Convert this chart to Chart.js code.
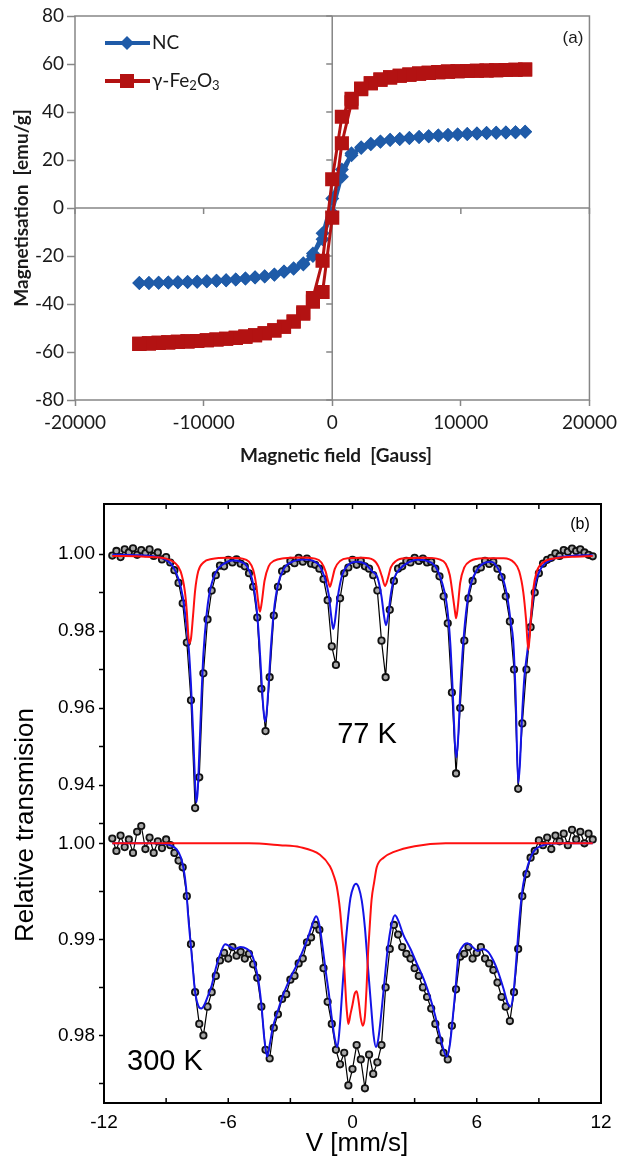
<!DOCTYPE html>
<html>
<head>
<meta charset="utf-8">
<script src="https://cdn.jsdelivr.net/npm/chart.js@4.4.0/dist/chart.umd.min.js"></script>
<style>
  html, body { margin: 0; padding: 0; background: #fff; }
  canvas { position: absolute; left: 0; }
</style>
</head>
<body>
<canvas id="chartA" width="622" height="480" style="top:0"></canvas>
<canvas id="chartB" width="622" height="680" style="top:480px"></canvas>
<script>
// ---------- panel (a): hysteresis loops ----------
const fieldUp = [-15000,-14250,-13500,-12750,-12000,-11250,-10500,-9750,-9000,-8250,-7500,-6750,-6000,-5250,-4500,-3750,-3000,-2250,-1500,-750,0,750,1500,2250,3000,3750,4500,5250,6000,6750,7500,8250,9000,9750,10500,11250,12000,12750,13500,14250,15000];
const fieldDown = [15000,14250,13500,12750,12000,11250,10500,9750,9000,8250,7500,6750,6000,5250,4500,3750,3000,2250,1500,750,0,-750,-1500,-2250,-3000,-3750,-4500,-5250,-6000,-6750,-7500,-8250,-9000,-9750,-10500,-11250,-12000,-12750,-13500,-14250,-15000];
const ncUp = [-31.3,-31.2,-31.1,-31.0,-30.9,-30.8,-30.7,-30.5,-30.3,-30.1,-29.8,-29.4,-29.0,-28.5,-27.8,-26.6,-25.3,-23.5,-20.0,-13.0,-2.0,13.0,22.0,25.0,26.6,27.6,28.3,28.8,29.2,29.6,29.9,30.2,30.4,30.6,30.8,31.0,31.2,31.4,31.5,31.6,31.8];
const ncDown = [31.8,31.6,31.5,31.4,31.2,31.0,30.8,30.6,30.4,30.2,29.9,29.6,29.2,28.8,28.4,27.7,26.8,25.3,22.8,16.0,4.0,-10.5,-19.0,-23.0,-25.1,-26.5,-27.7,-28.4,-28.9,-29.4,-29.8,-30.1,-30.3,-30.5,-30.7,-30.8,-30.9,-31.0,-31.1,-31.2,-31.3];
const feUp = [-56.6,-56.4,-56.2,-56.0,-55.8,-55.6,-55.4,-55.1,-54.8,-54.5,-54.1,-53.6,-53.0,-52.2,-51.0,-49.5,-47.3,-44.0,-39.0,-35.0,-4.0,27.0,44.0,49.5,52.0,53.5,54.4,55.1,55.6,56.0,56.3,56.6,56.8,57.0,57.1,57.2,57.3,57.4,57.5,57.6,57.7];
const feDown = [57.7,57.6,57.5,57.4,57.3,57.2,57.1,57.0,56.8,56.6,56.3,56.0,55.6,55.1,54.4,53.5,52.0,49.8,45.5,38.0,12.0,-22.0,-37.5,-43.5,-47.3,-49.5,-51.0,-52.2,-53.0,-53.6,-54.1,-54.5,-54.8,-55.1,-55.4,-55.6,-55.8,-56.0,-56.2,-56.4,-56.6];
const seriesNamesA = ['NC', 'γ-Fe2O3'];

// ---------- panel (b): Mossbauer spectra ----------
const vData = [-11.6,-11.4,-11.2,-11.0,-10.8,-10.6,-10.4,-10.2,-10.0,-9.8,-9.6,-9.4,-9.2,-9.0,-8.8,-8.6,-8.4,-8.2,-8.0,-7.8,-7.6,-7.4,-7.2,-7.0,-6.8,-6.6,-6.4,-6.2,-6.0,-5.8,-5.6,-5.4,-5.2,-5.0,-4.8,-4.6,-4.4,-4.2,-4.0,-3.8,-3.6,-3.4,-3.2,-3.0,-2.8,-2.6,-2.4,-2.2,-2.0,-1.8,-1.6,-1.4,-1.2,-1.0,-0.8,-0.6,-0.4,-0.2,0.0,0.2,0.4,0.6,0.8,1.0,1.2,1.4,1.6,1.8,2.0,2.2,2.4,2.6,2.8,3.0,3.2,3.4,3.6,3.8,4.0,4.2,4.4,4.6,4.8,5.0,5.2,5.4,5.6,5.8,6.0,6.2,6.4,6.6,6.8,7.0,7.2,7.4,7.6,7.8,8.0,8.2,8.4,8.6,8.8,9.0,9.2,9.4,9.6,9.8,10.0,10.2,10.4,10.6,10.8,11.0,11.2,11.4,11.6];
const d77 = [0.9996,1.0008,0.9992,1.0012,1.0004,1.0015,0.9998,1.0010,1.0002,1.0012,0.9995,1.0004,0.9986,0.9992,0.9978,0.9958,0.9925,0.9872,0.9770,0.9620,0.9340,0.9420,0.9690,0.9830,0.9905,0.9945,0.9970,0.9968,0.9985,0.9978,0.9986,0.9975,0.9968,0.9950,0.9915,0.9835,0.9650,0.9540,0.9680,0.9840,0.9915,0.9955,0.9962,0.9982,0.9976,0.9990,0.9980,0.9988,0.9975,0.9972,0.9962,0.9935,0.9880,0.9760,0.9712,0.9885,0.9950,0.9965,0.9985,0.9972,0.9982,0.9968,0.9962,0.9945,0.9905,0.9775,0.9680,0.9855,0.9930,0.9962,0.9968,0.9982,0.9978,0.9990,0.9982,0.9988,0.9978,0.9980,0.9962,0.9942,0.9890,0.9820,0.9640,0.9430,0.9600,0.9775,0.9885,0.9930,0.9960,0.9965,0.9982,0.9974,0.9980,0.9962,0.9940,0.9890,0.9825,0.9700,0.9390,0.9560,0.9700,0.9810,0.9900,0.9950,0.9975,0.9985,0.9990,1.0002,0.9995,1.0010,1.0006,1.0014,1.0008,1.0012,1.0004,0.9998,0.9994];
const d300 = [1.0005,0.9992,1.0008,0.9996,1.0004,0.9990,1.0012,1.0018,0.9994,1.0006,0.9990,1.0002,0.9995,1.0004,0.9998,0.9990,0.9982,0.9975,0.9945,0.9895,0.9845,0.9812,0.9800,0.9830,0.9845,0.9862,0.9878,0.9886,0.9880,0.9892,0.9883,0.9887,0.9880,0.9885,0.9874,0.9860,0.9830,0.9785,0.9776,0.9808,0.9822,0.9838,0.9843,0.9858,0.9862,0.9875,0.9880,0.9897,0.9902,0.9915,0.9910,0.9870,0.9835,0.9812,0.9785,0.9770,0.9782,0.9748,0.9765,0.9790,0.9775,0.9745,0.9780,0.9760,0.9772,0.9790,0.9850,0.9890,0.9915,0.9905,0.9892,0.9885,0.9880,0.9870,0.9862,0.9850,0.9840,0.9828,0.9812,0.9795,0.9782,0.9775,0.9810,0.9848,0.9882,0.9885,0.9892,0.9880,0.9886,0.9892,0.9880,0.9875,0.9868,0.9855,0.9840,0.9830,0.9815,0.9845,0.9890,0.9945,0.9968,0.9985,0.9992,1.0003,0.9998,1.0006,0.9994,1.0008,1.0002,1.0010,0.9998,1.0014,1.0004,1.0012,1.0000,1.0010,1.0004];

const vBlue77 = [-11.6,-10.5,-9.5,-9.0,-8.7,-8.4,-8.2,-8.05,-7.9,-7.8,-7.7,-7.62,-7.55,-7.48,-7.4,-7.3,-7.2,-7.05,-6.9,-6.6,-6.2,-5.8,-5.4,-5.1,-4.85,-4.65,-4.5,-4.4,-4.3,-4.22,-4.15,-4.05,-3.95,-3.8,-3.6,-3.3,-2.8,-2.3,-1.9,-1.6,-1.35,-1.15,-1.02,-0.93,-0.85,-0.72,-0.5,-0.2,0.2,0.6,0.95,1.2,1.4,1.52,1.62,1.72,1.85,2.0,2.3,2.7,3.1,3.6,4.0,4.3,4.55,4.72,4.85,4.95,5.02,5.1,5.22,5.38,5.6,5.9,6.3,6.7,7.0,7.3,7.5,7.65,7.76,7.88,8.0,8.08,8.18,8.3,8.45,8.6,8.8,9.1,9.6,10.5,11.6];
const tBlue77 = [0.9998,0.9997,0.9993,0.9985,0.9970,0.9935,0.9890,0.9830,0.9750,0.9660,0.9540,0.9430,0.9355,0.9380,0.9480,0.9620,0.9740,0.9840,0.9900,0.9953,0.9975,0.9983,0.9980,0.9968,0.9935,0.9870,0.9770,0.9680,0.9595,0.9565,0.9585,0.9660,0.9750,0.9850,0.9920,0.9963,0.9982,0.9986,0.9982,0.9970,0.9940,0.9895,0.9835,0.9805,0.9825,0.9885,0.9945,0.9972,0.9980,0.9975,0.9955,0.9940,0.9890,0.9840,0.9815,0.9840,0.9895,0.9935,0.9962,0.9978,0.9985,0.9982,0.9968,0.9930,0.9870,0.9770,0.9630,0.9505,0.9472,0.9520,0.9660,0.9790,0.9895,0.9948,0.9975,0.9980,0.9965,0.9930,0.9880,0.9820,0.9775,0.9630,0.9405,0.9450,0.9570,0.9680,0.9750,0.9830,0.9915,0.9962,0.9985,0.9995,0.9997];

const vRed77 = [-11.6,-10.0,-9.0,-8.6,-8.3,-8.1,-8.0,-7.93,-7.88,-7.8,-7.7,-7.6,-7.45,-7.2,-6.8,-6.0,-5.3,-5.0,-4.8,-4.65,-4.55,-4.47,-4.38,-4.25,-4.05,-3.8,-3.3,-2.5,-1.8,-1.5,-1.3,-1.18,-1.09,-1.0,-0.85,-0.6,-0.2,0.5,1.0,1.25,1.42,1.57,1.7,1.85,2.1,2.6,3.5,4.2,4.5,4.7,4.85,4.95,5.0,5.08,5.2,5.4,5.7,6.3,7.3,7.8,8.05,8.25,8.38,8.49,8.6,8.72,8.9,9.2,9.8,10.6,11.6];
const tRed77 = [0.9995,0.9993,0.9988,0.9978,0.9955,0.9905,0.9850,0.9790,0.9768,0.9780,0.9840,0.9905,0.9955,0.9978,0.9987,0.9990,0.9988,0.9980,0.9960,0.9920,0.9875,0.9850,0.9875,0.9930,0.9968,0.9982,0.9989,0.9991,0.9988,0.9978,0.9955,0.9930,0.9915,0.9930,0.9962,0.9982,0.9989,0.9990,0.9985,0.9968,0.9942,0.9917,0.9935,0.9965,0.9982,0.9989,0.9990,0.9986,0.9975,0.9945,0.9890,0.9850,0.9833,0.9860,0.9925,0.9965,0.9982,0.9989,0.9989,0.9978,0.9955,0.9900,0.9830,0.9751,0.9820,0.9905,0.9955,0.9978,0.9989,0.9993,0.9995];

const vBlue300 = [-11.6,-9.5,-8.8,-8.5,-8.3,-8.17,-8.04,-7.93,-7.77,-7.61,-7.45,-7.3,-7.15,-7.0,-6.8,-6.6,-6.4,-6.15,-5.95,-5.7,-5.4,-5.1,-4.9,-4.72,-4.55,-4.4,-4.25,-4.12,-4.0,-3.85,-3.6,-3.3,-3.0,-2.7,-2.4,-2.1,-1.9,-1.76,-1.6,-1.45,-1.3,-1.15,-1.0,-0.85,-0.73,-0.62,-0.5,-0.38,-0.25,-0.1,0.05,0.17,0.3,0.45,0.6,0.75,0.9,1.02,1.13,1.25,1.4,1.55,1.7,1.88,2.05,2.2,2.45,2.8,3.1,3.45,3.74,4.0,4.22,4.4,4.55,4.7,4.85,4.98,5.1,5.3,5.55,5.8,6.05,6.3,6.55,6.8,7.05,7.3,7.5,7.62,7.75,7.88,8.0,8.12,8.25,8.4,8.6,8.8,9.2,10.0,11.6];
const tBlue300 = [1.0000,1.0000,0.9998,0.9994,0.9986,0.9975,0.9955,0.9923,0.9885,0.9847,0.9831,0.9828,0.9832,0.9840,0.9852,0.9870,0.9884,0.9895,0.9893,0.9890,0.9892,0.9890,0.9886,0.9875,0.9858,0.9832,0.9795,0.9778,0.9790,0.9808,0.9826,0.9845,0.9860,0.9873,0.9888,0.9905,0.9918,0.9924,0.9915,0.9893,0.9868,0.9845,0.9818,0.9796,0.9788,0.9808,0.9845,0.9882,0.9915,0.9943,0.9955,0.9958,0.9954,0.9940,0.9912,0.9870,0.9830,0.9800,0.9788,0.9797,0.9825,0.9858,0.9890,0.9915,0.9925,0.9920,0.9905,0.9890,0.9875,0.9858,0.9840,0.9820,0.9800,0.9785,0.9778,0.9790,0.9820,0.9850,0.9880,0.9892,0.9896,0.9892,0.9888,0.9890,0.9887,0.9878,0.9865,0.9848,0.9833,0.9830,0.9840,0.9870,0.9905,0.9935,0.9958,0.9972,0.9985,0.9993,0.9998,1.0000,1.0000];

const vRed300 = [-11.6,-5.0,-3.5,-2.54,-1.57,-1.09,-0.9,-0.76,-0.6,-0.52,-0.44,-0.37,-0.31,-0.25,-0.2,-0.1,0.0,0.1,0.2,0.3,0.4,0.5,0.6,0.68,0.75,0.81,0.92,1.05,1.17,1.5,2.0,3.0,4.5,11.6];
const tRed300 = [1.0000,1.0000,0.9998,0.9996,0.9988,0.9976,0.9966,0.9955,0.9930,0.9910,0.9889,0.9860,0.9836,0.9820,0.9812,0.9822,0.9832,0.9843,0.9846,0.9835,0.9818,0.9810,0.9820,0.9850,0.9885,0.9906,0.9941,0.9960,0.9975,0.9985,0.9991,0.9997,1.0000,1.0000];

const topTicks = [1.00, 0.99, 0.98, 0.97, 0.96, 0.95, 0.94, 0.93];
const topTickLabels = ['1.00', '', '0.98', '', '0.96', '', '0.94', ''];
const botTicks = [1.000, 0.995, 0.990, 0.985, 0.980, 0.975];
const botTickLabels = ['1.00', '', '0.99', '', '0.98', ''];
const vMinorTicks = [-9, -6, -3, 0, 3, 6, 9];

const pts = (xs, ys) => xs.map((x, i) => ({ x: x, y: ys[i] }));

const blueA = '#1f5ba8';
const redA = '#b31212';
const grayA = '#868686';

// legend markers drawn like the dataset markers
function diamond(ctx, x, y, r) {
    ctx.beginPath();
    ctx.moveTo(x - r, y); ctx.lineTo(x, y - r); ctx.lineTo(x + r, y); ctx.lineTo(x, y + r);
    ctx.closePath(); ctx.fill();
}
function square(ctx, x, y, h) {
    ctx.fillRect(x - h, y - h, 2 * h, 2 * h);
}

const frameA = {
    id: 'frameA',
    beforeDatasetsDraw(chart) {
        const { ctx, chartArea: a, scales } = chart;
        const x0 = scales.x.getPixelForValue(0);
        const y0 = scales.y.getPixelForValue(0);
        ctx.save();
        ctx.strokeStyle = grayA;
        ctx.lineWidth = 1.5;
        ctx.strokeRect(a.left, a.top, a.right - a.left, a.bottom - a.top);
        ctx.beginPath();
        ctx.moveTo(x0, a.top); ctx.lineTo(x0, a.bottom);
        ctx.moveTo(a.left, y0); ctx.lineTo(a.right, y0);
        // small tick marks on the crossing axes
        scales.y.ticks.forEach(t => {
            const py = scales.y.getPixelForValue(t.value);
            ctx.moveTo(x0 - 6, py); ctx.lineTo(x0, py);
        });
        scales.x.ticks.forEach(t => {
            const px = scales.x.getPixelForValue(t.value);
            ctx.moveTo(px, y0); ctx.lineTo(px, y0 + 6);
        });
        ctx.stroke();
        ctx.restore();
    },
    afterDraw(chart) {
        const ctx = chart.ctx;
        ctx.save();
        // legend
        const rows = [{ y: 43, color: blueA, kind: 'd' }, { y: 81, color: redA, kind: 's' }];
        rows.forEach(r => {
            ctx.strokeStyle = r.color; ctx.fillStyle = r.color; ctx.lineWidth = 4;
            ctx.beginPath(); ctx.moveTo(105, r.y); ctx.lineTo(150, r.y); ctx.stroke();
            if (r.kind === 'd') diamond(ctx, 127, r.y, 7); else square(ctx, 127, r.y, 7);
        });
        ctx.fillStyle = '#1a1a1a';
        ctx.textBaseline = 'middle';
        ctx.textAlign = 'left';
        ctx.font = '19px Lato, "Open Sans", sans-serif';
        ctx.fillText(seriesNamesA[0], 152, 43);
        // γ-Fe2O3 with subscripts
        let x = 152;
        const parts = [['γ-Fe', 0], ['2', 1], ['O', 0], ['3', 1]];
        parts.forEach(p => {
            ctx.font = p[1] ? '13px Lato, "Open Sans", sans-serif' : '19px Lato, "Open Sans", sans-serif';
            ctx.fillText(p[0], x, p[1] ? 86 : 81);
            x += ctx.measureText(p[0]).width;
        });
        // panel label
        ctx.font = '17px "Liberation Sans", Arial, sans-serif';
        ctx.textAlign = 'center';
        ctx.fillText('(a)', 573, 38);
        // axis titles
        ctx.font = 'bold 19px Lato, "Open Sans", sans-serif';
        ctx.fillText('Magnetic field  [Gauss]', 336, 456);
        ctx.translate(22, 208);
        ctx.rotate(-Math.PI / 2);
        ctx.fillText('Magnetisation  [emu/g]', 0, 0);
        ctx.restore();
    }
};

new Chart(document.getElementById('chartA'), {
    type: 'scatter',
    data: {
        datasets: [{
            label: seriesNamesA[0],
            data: pts(fieldUp, ncUp).concat(pts(fieldDown, ncDown)),
            showLine: true,
            borderColor: blueA,
            backgroundColor: blueA,
            borderWidth: 3,
            pointStyle: 'rectRot',
            pointRadius: 7,
            pointBorderWidth: 0,
            order: 1
        }, {
            label: seriesNamesA[1],
            data: pts(fieldUp, feUp).concat(pts(fieldDown, feDown)),
            showLine: true,
            borderColor: redA,
            backgroundColor: redA,
            borderWidth: 3,
            pointStyle: 'rect',
            pointRadius: 10,
            pointBorderWidth: 0,
            order: 0
        }]
    },
    options: {
        responsive: false,
        animation: false,
        layout: { padding: { top: 16, right: 26, left: 0, bottom: 0 } },
        plugins: { legend: { display: false }, tooltip: { enabled: false } },
        scales: {
            x: {
                type: 'linear', min: -20000, max: 20000,
                ticks: { stepSize: 10000, color: '#1a1a1a', padding: 5, maxRotation: 0,
                    font: { family: 'Lato', size: 19 }, callback: v => String(v) },
                grid: { drawOnChartArea: false, tickLength: 6, tickColor: grayA, tickWidth: 1.5 },
                border: { display: false },
                afterFit: s => { s.height = 80; }
            },
            y: {
                min: -80, max: 80,
                ticks: { stepSize: 20, color: '#1a1a1a', padding: 3,
                    font: { family: 'Lato', size: 19 }, callback: v => String(v) },
                grid: { drawOnChartArea: false, tickLength: 8, tickColor: grayA, tickWidth: 1.5 },
                border: { display: false },
                afterFit: s => { s.width = 75; }
            }
        }
    },
    plugins: [frameA]
});

// ---------- chart (b) ----------
const fontB = '"Liberation Sans", Arial, sans-serif';

const frameB = {
    id: 'frameB',
    afterDatasetsDraw(chart) {
        const { ctx, chartArea: a, scales } = chart;
        ctx.save();
        ctx.strokeStyle = '#000';
        ctx.lineWidth = 2;
        ctx.strokeRect(a.left, a.top, a.right - a.left, a.bottom - a.top);
        ctx.beginPath();
        vMinorTicks.forEach(v => {
            const px = scales.x.getPixelForValue(v);
            ctx.moveTo(px, a.top); ctx.lineTo(px, a.top + 5);
            ctx.moveTo(px, a.bottom); ctx.lineTo(px, a.bottom - 5);
        });
        ctx.lineWidth = 1.5;
        ctx.stroke();
        ctx.fillStyle = '#000';
        // labels of the lower (300 K) axis, placed with its own scale
        ctx.textAlign = 'right';
        ctx.textBaseline = 'middle';
        ctx.font = '19px ' + fontB;
        botTicks.forEach((v, i) => {
            if (botTickLabels[i]) ctx.fillText(botTickLabels[i], a.left - 9, scales.yBot.getPixelForValue(v));
        });
        ctx.textAlign = 'center';
        ctx.font = '29px ' + fontB;
        ctx.fillText('77 K', 367, 255);
        ctx.fillText('300 K', 165, 582);
        ctx.font = '16px ' + fontB;
        ctx.fillText('(b)', 580, 45);
        ctx.font = '26px ' + fontB;
        ctx.fillText('V [mm/s]', 357, 664);
        ctx.translate(26, 345);
        ctx.rotate(-Math.PI / 2);
        ctx.fillText('Relative transmision', 0, 0);
        ctx.restore();
    }
};

const yAxisB = (min, max, ticks, labels, width, weight, showLabels) => ({
    position: 'left', min: min, max: max, weight: weight,
    afterBuildTicks: s => { s.ticks = ticks.map(v => ({ value: v })); },
    afterFit: s => { s.width = width; },
    ticks: { display: showLabels, autoSkip: false, color: '#000', padding: 4,
        font: { family: 'Liberation Sans', size: 19 }, callback: (v, i) => labels[i] },
    grid: { drawOnChartArea: false, tickLength: 5, tickColor: '#000', tickWidth: 1.5 },
    border: { display: false }
});

const lineSet = (label, xs, ys, color, axis, order) => ({
    label: label, data: pts(xs, ys), yAxisID: axis, showLine: true,
    borderColor: color, borderWidth: 2, pointRadius: 0,
    cubicInterpolationMode: 'monotone', order: order
});
const dataSet = (label, ys, axis) => ({
    label: label, data: pts(vData, ys), yAxisID: axis, showLine: true,
    borderColor: '#000', borderWidth: 1.2,
    pointRadius: 3.2, pointBorderWidth: 1.8, pointBorderColor: '#111', pointBackgroundColor: '#a8a8a8',
    order: 2
});

new Chart(document.getElementById('chartB'), {
    type: 'scatter',
    data: {
        datasets: [
            lineSet('fit 77 K (sub)', vRed77, tRed77, '#ff1010', 'yTop', 0),
            lineSet('fit 77 K', vBlue77, tBlue77, '#1414e6', 'yTop', 1),
            dataSet('77 K', d77, 'yTop'),
            lineSet('fit 300 K (sub)', vRed300, tRed300, '#ff1010', 'yBot', 0),
            lineSet('fit 300 K', vBlue300, tBlue300, '#1414e6', 'yBot', 1),
            dataSet('300 K', d300, 'yBot')
        ]
    },
    options: {
        responsive: false,
        animation: false,
        layout: { padding: { top: 24, right: 21, left: 0, bottom: 0 } },
        plugins: { legend: { display: false }, tooltip: { enabled: false } },
        scales: {
            x: {
                type: 'linear', min: -12, max: 12,
                ticks: { stepSize: 6, color: '#000', padding: 8, maxRotation: 0,
                    font: { family: 'Liberation Sans', size: 19 }, callback: v => String(v) },
                grid: { drawOnChartArea: false, drawTicks: false },
                border: { display: false },
                afterFit: s => { s.height = 57; }
            },
            yTop: yAxisB(0.8574, 1.01299, topTicks, topTickLabels, 104, 1, true),
            yBot: yAxisB(0.97297, 1.03531, botTicks, botTickLabels, 0, 0, false)
        }
    },
    plugins: [frameB]
});
</script>
</body>
</html>
